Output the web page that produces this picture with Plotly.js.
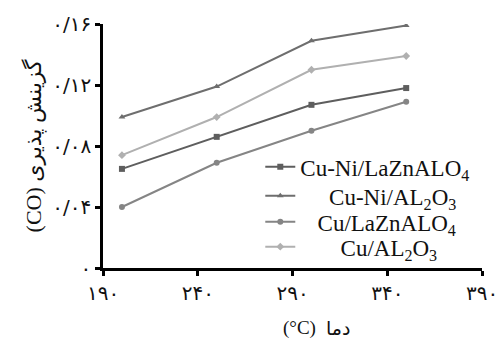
<!DOCTYPE html>
<html>
<head>
<meta charset="utf-8">
<script src="https://cdn.plot.ly/plotly-3.0.1.min.js"></script>
<style>html,body{margin:0;padding:0;background:#fff;}#chart{width:499px;height:338px;}</style>
</head>
<body>
<div id="chart"></div>
<script>
const temps = [200, 250, 300, 350];
const cuNiLaZn = [0.065, 0.086, 0.107, 0.118];
const cuNiAl = [0.099, 0.119, 0.149, 0.159];
const cuLaZn = [0.040, 0.069, 0.090, 0.109];
const cuAl = [0.074, 0.099, 0.130, 0.139];
const seriesNames = ['Cu-Ni/LaZnALO<sub>4</sub>', 'Cu-Ni/AL<sub>2</sub>O<sub>3</sub>', 'Cu/LaZnALO<sub>4</sub>', 'Cu/AL<sub>2</sub>O<sub>3</sub>'];
const xTickVals = [190, 240, 290, 340, 390];
const xTickText = ['۱۹۰', '۲۴۰', '۲۹۰', '۳۴۰', '۳۹۰'];
const yTickVals = [0, 0.04, 0.08, 0.12, 0.16];
const yTickText = ['۰', '۰/۰۴', '۰/۰۸', '۰/۱۲', '۰/۱۶'];
const yTitle = '(CO) گزینش پذیری';
const xTitleUnit = '(°C)';
const xTitleWord = 'دما';

const colors = ['#5e5e5e', '#6e6e6e', '#858585', '#b0b0b0'];
const symbols = ['square', 'triangle-up', 'circle', 'diamond'];
const ys = [cuNiLaZn, cuNiAl, cuLaZn, cuAl];
const legendIds = ['legend', 'legend2', 'legend3', 'legend4'];
const indent = [0, 5, 3, 7];
const legendY = [0.415, 0.296, 0.189, 0.087];

const traces = ys.map((y, i) => ({
  x: temps, y: y, name: '\u00A0'.repeat(indent[i]) + seriesNames[i], type: 'scatter', mode: 'lines+markers',
  legend: legendIds[i],
  line: {color: colors[i], width: 2},
  marker: {color: colors[i], symbol: symbols[i], size: 6}
}));

const layout = {
  width: 499, height: 338,
  margin: {l: 103, r: 17, t: 24, b: 70},
  paper_bgcolor: '#fff', plot_bgcolor: '#fff',
  showlegend: true,
  xaxis: {range: [190, 390], tickvals: xTickVals, ticktext: xTickText, showgrid: false, zeroline: false,
    showline: true, linecolor: '#000', linewidth: 2.5, ticks: 'outside', ticklen: 5, tickwidth: 2.5, tickcolor: '#000',
    tickfont: {family: 'DejaVu Sans', size: 20, color: '#111'}},
  yaxis: {range: [0, 0.16], tickvals: yTickVals, ticktext: yTickText, showgrid: false, zeroline: false,
    showline: true, linecolor: '#000', linewidth: 2.5, ticks: 'outside', ticklen: 5, tickwidth: 2.5, tickcolor: '#000',
    tickfont: {family: 'DejaVu Sans', size: 20, color: '#111'},
    title: {text: yTitle, font: {family: 'Liberation Serif, DejaVu Sans', size: 22, color: '#111'}, standoff: 5}},
  annotations: [
    {text: xTitleUnit, xref: 'paper', yref: 'paper', x: 0.567, y: -0.245, xanchor: 'right', yanchor: 'middle',
      showarrow: false, font: {family: 'Liberation Serif', size: 19, color: '#111'}},
    {text: xTitleWord, xref: 'paper', yref: 'paper', x: 0.582, y: -0.245, xanchor: 'left', yanchor: 'middle',
      showarrow: false, font: {family: 'DejaVu Sans', size: 19, color: '#111'}}
  ]
};
legendIds.forEach((id, i) => {
  layout[id] = {x: 0.415, y: legendY[i], xanchor: 'left', yanchor: 'middle', bgcolor: 'rgba(0,0,0,0)',
    font: {family: 'Liberation Serif, serif', size: 23, color: '#111'}, itemwidth: 30};
});
Plotly.newPlot('chart', traces, layout, {displayModeBar: false});
</script>
</body>
</html>
